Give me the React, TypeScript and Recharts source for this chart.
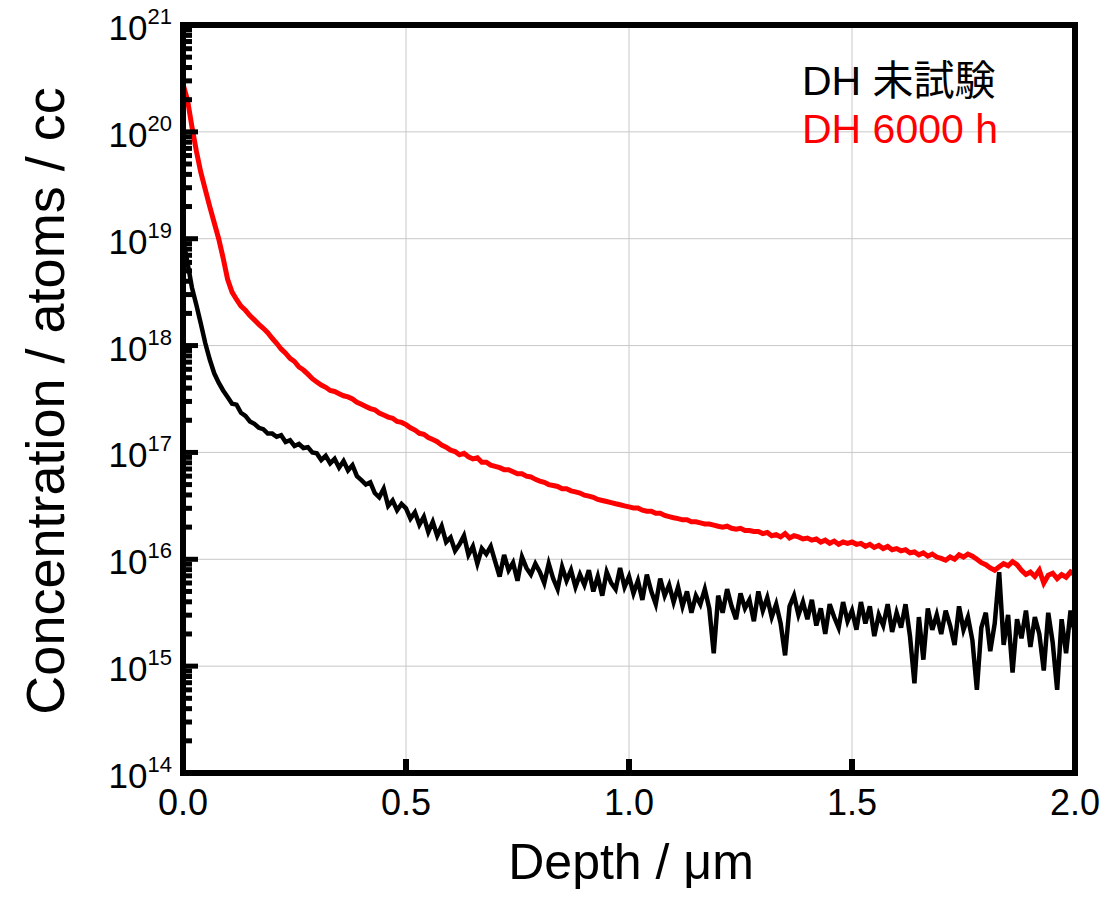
import { LineChart, Line, XAxis, YAxis, CartesianGrid, Legend } from "recharts";

// depth in µm
const depth = [
  0.0, 0.01, 0.02, 0.03, 0.04, 0.05, 0.06, 0.07, 0.08, 0.09,
  0.1, 0.11, 0.12, 0.13, 0.14, 0.15, 0.16, 0.17, 0.18, 0.19,
  0.2, 0.21, 0.22, 0.23, 0.24, 0.25, 0.26, 0.27, 0.28, 0.29,
  0.3, 0.31, 0.32, 0.33, 0.34, 0.35, 0.36, 0.37, 0.38, 0.39,
  0.4, 0.41, 0.42, 0.43, 0.44, 0.45, 0.46, 0.47, 0.48, 0.49,
  0.5, 0.51, 0.52, 0.53, 0.54, 0.55, 0.56, 0.57, 0.58, 0.59,
  0.6, 0.61, 0.62, 0.63, 0.64, 0.65, 0.66, 0.67, 0.68, 0.69,
  0.7, 0.71, 0.72, 0.73, 0.74, 0.75, 0.76, 0.77, 0.78, 0.79,
  0.8, 0.81, 0.82, 0.83, 0.84, 0.85, 0.86, 0.87, 0.88, 0.89,
  0.9, 0.91, 0.92, 0.93, 0.94, 0.95, 0.96, 0.97, 0.98, 0.99,
  1.0, 1.01, 1.02, 1.03, 1.04, 1.05, 1.06, 1.07, 1.08, 1.09,
  1.1, 1.11, 1.12, 1.13, 1.14, 1.15, 1.16, 1.17, 1.18, 1.19,
  1.2, 1.21, 1.22, 1.23, 1.24, 1.25, 1.26, 1.27, 1.28, 1.29,
  1.3, 1.31, 1.32, 1.33, 1.34, 1.35, 1.36, 1.37, 1.38, 1.39,
  1.4, 1.41, 1.42, 1.43, 1.44, 1.45, 1.46, 1.47, 1.48, 1.49,
  1.5, 1.51, 1.52, 1.53, 1.54, 1.55, 1.56, 1.57, 1.58, 1.59,
  1.6, 1.61, 1.62, 1.63, 1.64, 1.65, 1.66, 1.67, 1.68, 1.69,
  1.7, 1.71, 1.72, 1.73, 1.74, 1.75, 1.76, 1.77, 1.78, 1.79,
  1.8, 1.81, 1.82, 1.83, 1.84, 1.85, 1.86, 1.87, 1.88, 1.89,
  1.9, 1.91, 1.92, 1.93, 1.94, 1.95, 1.96, 1.97, 1.98, 1.99, 2.0,
];

// DH 未試験 (atoms / cc)
const untested = [
  1.0e19, 6.0e18, 3.5e18, 2.4e18, 1.6e18, 1.05e18, 7.4e17, 5.5e17, 4.5e17, 3.8e17,
  3.3e17, 2.85e17, 2.8e17, 2.35e17, 2.2e17, 1.95e17, 1.85e17, 1.7e17, 1.65e17, 1.5e17,
  1.5e17, 1.4e17, 1.45e17, 1.25e17, 1.3e17, 1.15e17, 1.2e17, 1.1e17, 1.12e17, 1.0e17,
  9.8e16, 8.5e16, 9.3e16, 7.9e16, 8.7e16, 7.2e16, 8.3e16, 6.8e16, 7.6e16, 6.0e16,
  5.5e16, 5.0e16, 5.25e16, 4.17e16, 3.8e16, 4.57e16, 3.16e16, 3.55e16, 2.88e16, 3.3e16,
  3.0e16, 2.4e16, 2.75e16, 2.1e16, 2.5e16, 1.8e16, 2.24e16, 1.66e16, 2.04e16, 1.45e16,
  1.6e16, 1.2e16, 1.38e16, 1.66e16, 1.1e16, 1.32e16, 9.1e15, 1.26e16, 1.12e16, 1.32e16,
  9.5e15, 6.9e15, 1.1e16, 7.9e15, 9.3e15, 6.3e15, 1.05e16, 8.3e15, 7.2e15, 9.1e15,
  7.6e15, 6.0e15, 9.1e15, 6.6e15, 5.25e15, 8.5e15, 6.3e15, 7.9e15, 5.5e15, 7.2e15,
  5.75e15, 7.9e15, 5.0e15, 6.9e15, 4.57e15, 7.6e15, 6.0e15, 5.25e15, 8.3e15, 5.5e15,
  6.9e15, 4.8e15, 6.3e15, 4.17e15, 7.2e15, 5.0e15, 3.8e15, 6.6e15, 4.57e15, 5.75e15,
  3.98e15, 5.5e15, 3.63e15, 5.0e15, 3.16e15, 4.57e15, 3.8e15, 5.25e15, 3.47e15, 1.32e15,
  4.57e15, 3.16e15, 5.25e15, 3.63e15, 2.75e15, 4.79e15, 3.47e15, 4.17e15, 2.63e15, 5.0e15,
  3.31e15, 4.37e15, 2.88e15, 3.8e15, 2.51e15, 1.26e15, 3.63e15, 4.57e15, 3.02e15, 3.98e15,
  2.75e15, 4.17e15, 2.4e15, 3.47e15, 2.0e15, 3.8e15, 2.88e15, 2.29e15, 3.98e15, 2.63e15,
  3.31e15, 2.19e15, 3.98e15, 2.51e15, 3.63e15, 1.91e15, 3.02e15, 2.4e15, 3.8e15, 2.09e15,
  3.16e15, 2.29e15, 3.8e15, 1.91e15, 6.9e14, 2.88e15, 1.15e15, 3.47e15, 2.19e15, 3.02e15,
  2.0e15, 3.31e15, 2.4e15, 1.58e15, 3.63e15, 2.19e15, 2.88e15, 1.74e15, 6.0e14, 2.29e15,
  3.16e15, 1.38e15, 2.51e15, 7.59e15, 1.58e15, 3.02e15, 8.7e14, 2.75e15, 1.82e15, 3.31e15,
  1.51e15, 2.88e15, 2.0e15, 9.1e14, 3.16e15, 1.66e15, 6.0e14, 2.75e15, 1.32e15, 3.31e15, 2.0e15,
];

// DH 6000 h (atoms / cc)
const dh6000 = [
  2.8e20, 2.0e20, 1.12e20, 6.6e19, 4.17e19, 2.88e19, 2.0e19, 1.41e19, 1.0e19, 6.6e18,
  4.17e18, 3.16e18, 2.7e18, 2.34e18, 2.14e18, 1.91e18, 1.74e18, 1.58e18, 1.45e18, 1.32e18,
  1.17e18, 1.05e18, 9.3e17, 8.5e17, 7.6e17, 7.1e17, 6.3e17, 5.9e17, 5.4e17, 4.9e17,
  4.57e17, 4.27e17, 4.07e17, 3.8e17, 3.72e17, 3.55e17, 3.39e17, 3.31e17, 3.16e17, 2.95e17,
  2.82e17, 2.69e17, 2.57e17, 2.51e17, 2.34e17, 2.24e17, 2.14e17, 2.09e17, 1.95e17, 1.91e17,
  1.82e17, 1.7e17, 1.62e17, 1.51e17, 1.48e17, 1.38e17, 1.32e17, 1.26e17, 1.17e17, 1.12e17,
  1.05e17, 1.02e17, 9.5e16, 9.8e16, 9.1e16, 8.7e16, 8.9e16, 8.1e16, 8.1e16, 7.6e16,
  7.4e16, 7.2e16, 6.9e16, 6.9e16, 6.6e16, 6.3e16, 6.3e16, 6.0e16, 5.9e16, 5.6e16,
  5.4e16, 5.25e16, 5.0e16, 4.9e16, 4.8e16, 4.57e16, 4.57e16, 4.37e16, 4.27e16, 4.17e16,
  3.98e16, 3.9e16, 3.8e16, 3.63e16, 3.55e16, 3.47e16, 3.39e16, 3.31e16, 3.24e16, 3.16e16,
  3.09e16, 3.02e16, 3.02e16, 2.88e16, 2.82e16, 2.82e16, 2.69e16, 2.69e16, 2.57e16, 2.51e16,
  2.45e16, 2.4e16, 2.34e16, 2.34e16, 2.24e16, 2.24e16, 2.19e16, 2.14e16, 2.14e16, 2.09e16,
  2.04e16, 2.0e16, 2.04e16, 1.95e16, 1.91e16, 1.95e16, 1.86e16, 1.86e16, 1.82e16, 1.82e16,
  1.74e16, 1.78e16, 1.66e16, 1.7e16, 1.62e16, 1.74e16, 1.58e16, 1.66e16, 1.62e16, 1.55e16,
  1.58e16, 1.51e16, 1.55e16, 1.45e16, 1.51e16, 1.41e16, 1.48e16, 1.38e16, 1.45e16, 1.41e16,
  1.45e16, 1.38e16, 1.41e16, 1.32e16, 1.38e16, 1.29e16, 1.35e16, 1.26e16, 1.32e16, 1.23e16,
  1.26e16, 1.2e16, 1.23e16, 1.15e16, 1.17e16, 1.1e16, 1.15e16, 1.07e16, 1.12e16, 1.05e16,
  1.02e16, 9.8e15, 1.05e16, 1.0e16, 1.1e16, 1.05e16, 1.12e16, 1.07e16, 1.0e16, 9.3e15,
  8.9e15, 8.3e15, 7.9e15, 8.5e15, 9.1e15, 8.7e15, 9.5e15, 8.9e15, 7.9e15, 7.2e15,
  7.6e15, 6.9e15, 7.9e15, 6.0e15, 7.1e15, 7.4e15, 6.6e15, 7.2e15, 6.8e15, 7.6e15, 7.2e15,
];

const decades = [1e14, 1e15, 1e16, 1e17, 1e18, 1e19, 1e20, 1e21];
const minorSteps = [2, 3, 4, 5, 6, 7, 8, 9];
const xTicks = [0, 0.5, 1.0, 1.5, 2.0];
const legendOrder = ["DH 未試験", "DH 6000 h"];

const data = depth.map((d, i) => ({ depth: d, untested: untested[i], dh6000: dh6000[i] }));
const yTicks = [
  ...decades,
  ...decades.slice(0, -1).flatMap((d) => minorSteps.map((m) => d * m)),
];

const FONT = "'Liberation Sans', Arial, 'Noto Sans CJK JP', sans-serif";
const frameLine = { stroke: "#000", strokeWidth: 6, strokeLinecap: "square" as const };

function YTick({ x, y, payload }: any) {
  const v = payload.value;
  const exp = Math.round(Math.log10(v));
  const major = Math.abs(v - Math.pow(10, exp)) < v * 1e-6;
  return (
    <g>
      <rect x={x} y={y - 2.5} width={major ? 15 : 9} height={5} fill="#000" />
      {major && (
        <text x={x - 11} y={y + 15} textAnchor="end" fontSize={35} fontFamily={FONT} fill="#000">
          10
          <tspan dy={-16} fontSize={22}>
            {exp}
          </tspan>
        </text>
      )}
    </g>
  );
}

function XTick({ x, y, payload }: any) {
  const v = payload.value;
  const inner = v > 0 && v < 2;
  return (
    <g>
      {inner && <rect x={x - 3} y={y - 14} width={6} height={14} fill="#000" />}
      <text x={x} y={y + 42} textAnchor="middle" fontSize={36} fontFamily={FONT} fill="#000">
        {v.toFixed(1)}
      </text>
    </g>
  );
}

function LegendBox({ payload }: any) {
  const items = [...(payload || [])].sort(
    (a: any, b: any) => legendOrder.indexOf(a.value) - legendOrder.indexOf(b.value)
  );
  return (
    <div style={{ fontFamily: FONT, fontSize: 41, lineHeight: "48px" }}>
      {items.map((p: any) => (
        <div key={p.value} style={{ color: p.color, whiteSpace: "nowrap" }}>
          {p.value}
        </div>
      ))}
    </div>
  );
}

export default function App() {
  return (
    <div style={{ position: "absolute", left: 0, top: 0, width: 1100, height: 904, background: "#fff", fontFamily: FONT }}>
      <LineChart width={1100} height={904} data={data} margin={{ top: 0, right: 0, bottom: 0, left: 0 }}>
        <CartesianGrid
          stroke="#c8c8c8"
          strokeWidth={1}
          horizontalValues={decades}
          verticalValues={xTicks}
        />
        <XAxis
          dataKey="depth"
          type="number"
          domain={[0, 2]}
          ticks={xTicks}
          interval={0}
          height={131}
          tickSize={0}
          tickMargin={0}
          tickLine={false}
          axisLine={frameLine}
          tick={(p: any) => <XTick {...p} />}
          label={{
            content: ({ viewBox }: any) => (
              <text
                x={viewBox.x + viewBox.width / 2 + 2}
                y={viewBox.y + 106}
                textAnchor="middle"
                fontSize={50}
                fontFamily={FONT}
                fill="#000"
              >
                Depth / μm
              </text>
            ),
          }}
        />
        <XAxis xAxisId="top" orientation="top" type="number" domain={[0, 2]} height={25} tick={false} tickLine={false} axisLine={frameLine} />
        <YAxis
          type="number"
          scale="log"
          domain={[1e14, 1e21]}
          allowDataOverflow
          ticks={yTicks}
          interval={0}
          width={183}
          tickSize={0}
          tickMargin={0}
          tickLine={false}
          axisLine={frameLine}
          tick={(p: any) => <YTick {...p} />}
          label={{
            content: ({ viewBox }: any) => (
              <text
                x={viewBox.x + 45}
                y={viewBox.y + viewBox.height / 2 + 2}
                transform={`rotate(-90, ${viewBox.x + 45}, ${viewBox.y + viewBox.height / 2 + 2})`}
                textAnchor="middle"
                dominantBaseline="central"
                fontSize={54}
                fontFamily={FONT}
                fill="#000"
              >
                Concentration / atoms / cc
              </text>
            ),
          }}
        />
        <YAxis
          yAxisId="right"
          orientation="right"
          type="number"
          scale="log"
          domain={[1e14, 1e21]}
          allowDataOverflow
          width={25}
          tick={false}
          tickLine={false}
          axisLine={frameLine}
        />
        <Legend
          layout="vertical"
          align="center"
          verticalAlign="middle"
          wrapperStyle={{ top: 57, left: 802, width: 260 }}
          content={(p: any) => <LegendBox {...p} />}
        />
        <Line
          dataKey="dh6000"
          name="DH 6000 h"
          stroke="#ff0000"
          strokeWidth={5}
          dot={false}
          activeDot={false}
          isAnimationActive={false}
        />
        <Line
          dataKey="untested"
          name="DH 未試験"
          stroke="#000000"
          strokeWidth={4.5}
          dot={false}
          activeDot={false}
          isAnimationActive={false}
        />
      </LineChart>
    </div>
  );
}
